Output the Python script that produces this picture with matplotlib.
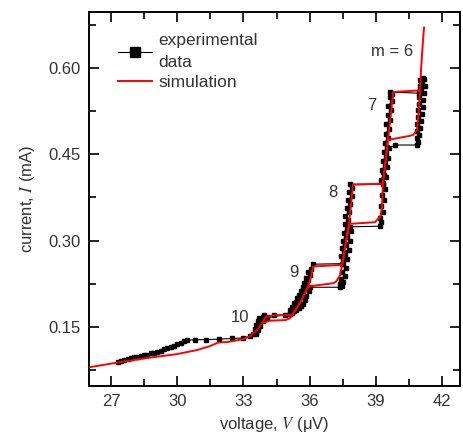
import numpy as np
import matplotlib
matplotlib.use('Agg')
import matplotlib.pyplot as plt
from matplotlib.ticker import MultipleLocator, FormatStrFormatter

plt.rcParams['font.family'] = ['Liberation Sans', 'DejaVu Sans']
plt.rcParams['mathtext.fontset'] = 'stix'

# measured I-V, sweep up (voltage in uV, current in mA)
exp_up_v = [27.3, 27.45, 27.6, 27.75, 27.9, 28.05, 28.2, 28.35, 28.5, 28.65, 28.8, 28.95,
            29.1, 29.25, 29.4, 29.55, 29.7, 29.85, 30.0, 30.15, 30.3, 30.45,
            30.8, 31.3, 31.9, 32.5, 33.0, 33.3,
            33.45, 33.55, 33.5, 33.65, 33.58, 33.72, 33.64, 33.8, 33.7, 33.88, 33.95, 34.05,
            34.4, 34.9,
            35.1, 35.2, 35.1, 35.3, 35.2, 35.4, 35.3, 35.38, 35.52, 35.44, 35.6, 35.5,
            35.7, 35.6, 35.76, 35.68, 35.85, 35.74, 35.92, 35.82, 36.0, 35.92, 36.08, 36.15,
            37.45, 37.52, 37.4, 37.56, 37.45, 37.6, 37.5, 37.64, 37.54, 37.68, 37.58,
            37.72, 37.62, 37.78, 37.68, 37.84, 37.74, 37.9, 37.8, 37.92, 37.84,
            39.3, 39.22, 39.36, 39.27, 39.4, 39.31, 39.45, 39.35, 39.5, 39.4, 39.54,
            39.44, 39.6, 39.48, 39.64, 39.53, 39.68, 39.57, 39.72, 39.62, 39.75, 39.66,
            40.95, 41.05, 40.98, 41.1, 41.02, 41.12]
exp_up_i = [0.090, 0.091, 0.093, 0.094, 0.096, 0.097, 0.098, 0.099, 0.101, 0.102, 0.104, 0.105,
            0.107, 0.109, 0.111, 0.113, 0.115, 0.117, 0.120, 0.122, 0.125, 0.127,
            0.128, 0.128, 0.129, 0.130, 0.131, 0.134,
            0.138, 0.142, 0.146, 0.150, 0.154, 0.157, 0.160, 0.163, 0.166, 0.168, 0.170, 0.168,
            0.170, 0.171,
            0.173, 0.176, 0.179, 0.182, 0.185, 0.188, 0.191, 0.194, 0.197, 0.200, 0.203, 0.206,
            0.209, 0.212, 0.216, 0.219, 0.223, 0.227, 0.231, 0.235, 0.240, 0.245, 0.251, 0.259,
            0.260, 0.267, 0.273, 0.280, 0.287, 0.294, 0.300, 0.307, 0.314, 0.321, 0.328,
            0.335, 0.342, 0.349, 0.356, 0.363, 0.370, 0.377, 0.384, 0.391, 0.398,
            0.398, 0.406, 0.414, 0.422, 0.430, 0.438, 0.446, 0.454, 0.462, 0.470, 0.478,
            0.486, 0.494, 0.502, 0.510, 0.518, 0.526, 0.534, 0.542, 0.549, 0.555, 0.558,
            0.556, 0.562, 0.568, 0.574, 0.579, 0.583]

# measured I-V, sweep down
exp_dn_v = [41.2, 41.05, 41.22, 41.0, 41.18, 40.96, 41.15, 40.94, 41.12, 40.92, 41.08, 40.9,
            41.04, 40.88, 41.0, 40.86, 40.96, 40.84, 40.9, 40.86,
            39.87, 39.6, 39.45, 39.56, 39.4, 39.5, 39.34, 39.45, 39.3, 39.4, 39.26,
            39.36, 39.22, 39.3, 39.18, 39.24, 39.2,
            37.83, 37.88, 37.7, 37.82, 37.64, 37.76, 37.58, 37.7, 37.52, 37.64, 37.46,
            37.58, 37.42, 37.52, 37.38, 37.45, 37.37,
            36.02, 35.95, 35.85, 35.78, 35.7, 35.6, 35.5, 35.4, 35.3, 35.2, 35.12,
            34.05, 33.9, 33.75, 33.65, 33.55]
exp_dn_i = [0.580, 0.574, 0.568, 0.562, 0.556, 0.550, 0.544, 0.538, 0.532, 0.526, 0.520, 0.514,
            0.508, 0.502, 0.496, 0.490, 0.484, 0.478, 0.472, 0.466,
            0.466, 0.460, 0.452, 0.444, 0.436, 0.428, 0.420, 0.410, 0.400, 0.390, 0.380,
            0.370, 0.360, 0.350, 0.340, 0.332, 0.325,
            0.324, 0.316, 0.308, 0.300, 0.292, 0.284, 0.276, 0.268, 0.260, 0.252, 0.245,
            0.239, 0.233, 0.228, 0.224, 0.221, 0.219,
            0.219, 0.212, 0.203, 0.196, 0.190, 0.186, 0.183, 0.180, 0.177, 0.175, 0.173,
            0.166, 0.160, 0.152, 0.145, 0.138]

# simulated I-V, sweep up
sim_up_v = [26.0, 27.1, 28.6, 30.0, 30.9, 31.5, 31.85, 32.3, 33.0, 33.3, 33.6, 33.85, 34.0,
            34.3, 35.2, 35.4, 35.65, 35.9, 36.05, 36.15,
            37.47, 37.55, 37.65, 37.78, 37.88, 37.96,
            39.32, 39.4, 39.5, 39.62, 39.72, 39.78,
            41.0, 41.05, 41.12, 41.18]
sim_up_i = [0.080, 0.087, 0.096, 0.103, 0.110, 0.117, 0.123, 0.124, 0.129, 0.134, 0.144, 0.157, 0.167,
            0.170, 0.171, 0.182, 0.198, 0.218, 0.236, 0.255,
            0.258, 0.275, 0.300, 0.330, 0.365, 0.397,
            0.399, 0.428, 0.460, 0.500, 0.535, 0.558,
            0.561, 0.600, 0.640, 0.670]

# simulated I-V, sweep down
sim_dn_v = [41.0, 40.93, 40.86, 40.7, 40.55, 39.7, 39.54, 39.45, 39.32, 39.28, 39.2, 38.96,
            37.8, 37.65, 37.55, 37.47, 37.38, 37.2, 37.06, 36.05, 35.9, 35.65, 35.4, 35.25,
            35.1, 34.9, 34.2, 33.95, 33.85]
sim_dn_i = [0.561, 0.520, 0.492, 0.484, 0.482, 0.476, 0.475, 0.440, 0.400, 0.358, 0.342, 0.332,
            0.329, 0.300, 0.275, 0.258, 0.240, 0.229, 0.226, 0.221, 0.218, 0.198, 0.182, 0.173,
            0.165, 0.162, 0.161, 0.158, 0.157]

step_labels = ['m = 6', '7', '8', '9', '10']
step_v = [39.75, 38.83, 37.06, 35.3, 32.84]
step_i = [0.628, 0.534, 0.383, 0.245, 0.167]

fig = plt.figure(figsize=(4.63, 4.37), dpi=100)
ax = fig.add_axes([0.1922, 0.1167, 0.8013, 0.8558])

ax.plot(exp_up_v, exp_up_i, color='black', lw=0.8, marker='s', ms=3.3,
        mec='black', mfc='black', label='experimental\ndata', zorder=2)
ax.plot(exp_dn_v, exp_dn_i, color='black', lw=0.8, marker='s', ms=3.3,
        mec='black', mfc='black', zorder=2)
ax.plot(sim_up_v, sim_up_i, color='red', lw=1.4, label='simulation', zorder=3)
ax.plot(sim_dn_v, sim_dn_i, color='red', lw=1.4, zorder=3)

for lab, v, i in zip(step_labels, step_v, step_i):
    ax.text(v, i, lab, fontsize=12, color='#333333', ha='center', va='center')

ax.set_xlim(26.0, 42.81)
ax.set_ylim(0.0475, 0.697)
ax.xaxis.set_major_locator(MultipleLocator(3))
ax.xaxis.set_minor_locator(MultipleLocator(1.5))
ax.yaxis.set_major_locator(MultipleLocator(0.15))
ax.yaxis.set_minor_locator(MultipleLocator(0.075))
ax.yaxis.set_major_formatter(FormatStrFormatter('%.2f'))
ax.tick_params(which='both', direction='in', top=True, right=True, labelsize=12,
               colors='black', labelcolor='#333333')
ax.tick_params(which='major', length=7, width=1.2, pad=6)
ax.tick_params(which='minor', length=5, width=1.2)
for s in ax.spines.values():
    s.set_linewidth(1.4)

ax.set_xlabel('voltage, $V$ (\u03bcV)', fontsize=12, color='#333333', labelpad=4)
ax.set_ylabel('current, $I$ (mA)', fontsize=12, color='#333333', labelpad=8)

leg = ax.legend(loc='upper left', bbox_to_anchor=(0.035, 0.985), frameon=False,
                fontsize=12.5, handlelength=2.0, handletextpad=0.35, labelspacing=0.25,
                markerscale=2.4)
for t in leg.get_texts():
    t.set_color('#333333')
    t.set_linespacing(1.6)

fig.savefig('out.png', dpi=100)
